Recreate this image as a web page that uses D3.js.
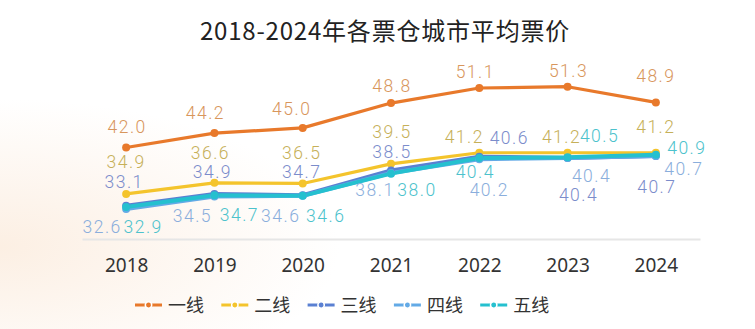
<!DOCTYPE html>
<html><head><meta charset="utf-8">
<script src="https://cdn.jsdelivr.net/npm/d3@7/dist/d3.min.js"></script>
<style>
html,body{margin:0;padding:0;background:#fff;}
svg{display:block;}
</style></head>
<body>
<svg id="chart" width="755" height="329"></svg>
<script>
// ---- data ----
const years = ["2018","2019","2020","2021","2022","2023","2024"];
const seriesNames = ["一线","二线","三线","四线","五线"];
const tier1 = [42.0, 44.2, 45.0, 48.8, 51.1, 51.3, 48.9];
const tier2 = [34.9, 36.6, 36.5, 39.5, 41.2, 41.2, 41.2];
const tier3 = [33.1, 34.9, 34.7, 38.5, 40.6, 40.4, 40.7];
const tier4 = [32.6, 34.5, 34.6, 38.1, 40.2, 40.4, 40.7];
const tier5 = [32.9, 34.7, 34.6, 38.0, 40.4, 40.5, 40.9];
const title = "2018-2024年各票仓城市平均票价";

// ---- styles ----
const lineColors  = ["#e8792b","#f4c42c","#5a80d2","#63aae6","#25c0cf"];
const labelColors = ["#d8965c","#c6b059","#7b8ccb","#8aaedc","#4cc2cc"];
// label offsets relative to each point (dx, dy)
const labelDx = [
  [1,-9,-11,1,-4,1,0],
  [0,-4,-1,1,-15,-6,0],
  [-2,-2,-1,1,30,11,1],
  [-24,-22,-22,-16,10,24,28],
  [17,25,23,26,-4,32,31]
];
const labelDy = [
  [-15,-14,-13,-11,-10,-10,-20],
  [-26,-24,-24,-26,-10,-10,-20],
  [-18,-16,-17,-12,-13,43,37],
  [24,25,26,23,37,24,19],
  [26,26,26,22,20,-15,-1]
];

const allSeries = [tier1, tier2, tier3, tier4, tier5];
const svg = d3.select("#chart");

// background tint
const defs = svg.append("defs");
const rg = defs.append("radialGradient").attr("id","bg").attr("cx","0").attr("cy","0.75").attr("r","0.45");
rg.append("stop").attr("offset","0").attr("stop-color","#fcefe3");
rg.append("stop").attr("offset","1").attr("stop-color","#ffffff");
svg.append("rect").attr("width",755).attr("height",329).attr("fill","url(#bg)");

const x = d3.scalePoint().domain(years).range([82, 700]).padding(0.5);
const y = d3.scaleLinear().domain([28, 56]).range([239, 56]);

// title
svg.append("text").attr("x", 385).attr("y", 40).attr("text-anchor","middle")
  .attr("font-family","'Noto Sans CJK SC','Noto Sans',sans-serif")
  .attr("font-size", 24).attr("font-weight", 400).attr("fill","#222")
  .attr("letter-spacing","0.8px")
  .text(title);

// baseline axis
const xAxis = d3.axisBottom(x).tickSize(0).tickPadding(20);
const ax = svg.append("g").attr("transform","translate(0,239)").call(xAxis);
ax.select(".domain").attr("stroke","#e6e6e6").attr("stroke-width",2);
ax.selectAll("text").attr("font-family","'Noto Sans','Roboto',sans-serif")
  .attr("font-size",19).attr("fill","#333");

const line = d3.line().x((d,i)=>x(years[i])).y(d=>y(d));

allSeries.forEach((vals, s) => {
  svg.append("path").datum(vals).attr("d", line)
    .attr("fill","none").attr("stroke", lineColors[s]).attr("stroke-width", s>=2 ? 4 : 3.2)
    .attr("stroke-linejoin","round").attr("stroke-linecap","round");
});
allSeries.forEach((vals, s) => {
  svg.append("g").selectAll("circle").data(vals).join("circle")
    .attr("cx",(d,i)=>x(years[i])).attr("cy",d=>y(d)).attr("r",4)
    .attr("fill", lineColors[s]);
});
allSeries.forEach((vals, s) => {
  svg.append("g").selectAll("text").data(vals).join("text")
    .attr("x",(d,i)=>x(years[i]) + labelDx[s][i])
    .attr("y",(d,i)=>y(d) + labelDy[s][i])
    .attr("text-anchor","middle")
    .attr("font-family","Roboto,'Noto Sans',sans-serif")
    .attr("font-weight",300)
    .attr("font-size",17.5).attr("letter-spacing","1.5px")
    .attr("fill", labelColors[s])
    .text(d=>d.toFixed(1));
});

// legend
const lg = svg.append("g").attr("transform","translate(135,305)");
seriesNames.forEach((name, s) => {
  const g = lg.append("g").attr("transform",`translate(${s*86.3},0)`);
  g.append("line").attr("x1",0).attr("x2",27).attr("y1",0).attr("y2",0)
    .attr("stroke",lineColors[s]).attr("stroke-width",3);
  g.append("circle").attr("cx",13.5).attr("cy",0).attr("r",3.2).attr("fill",lineColors[s])
    .attr("stroke","#fff").attr("stroke-width",1.5);
  g.append("text").attr("x",33).attr("y",6.5)
    .attr("font-family","'Noto Sans CJK SC',sans-serif").attr("font-size",18).attr("fill","#333")
    .text(name);
});
</script>
</body></html>
